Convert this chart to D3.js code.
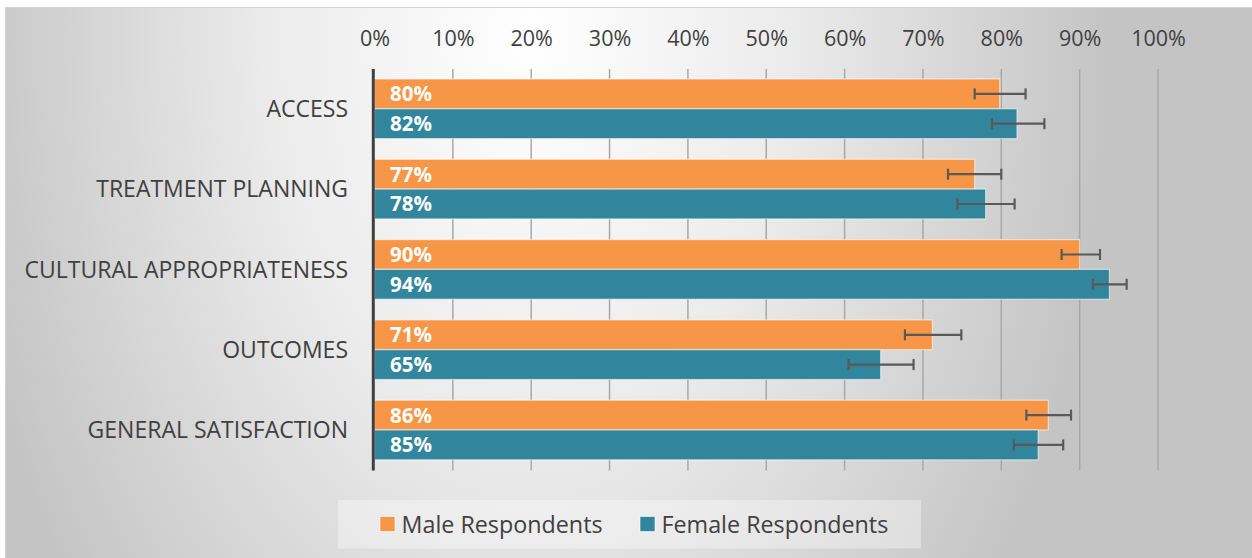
<!DOCTYPE html>
<html>
<head>
<meta charset="utf-8">
<style>
  html, body { margin: 0; padding: 0; background: #fff; }
  svg { display: block; }
</style>
</head>
<body>
<script src="https://d3js.org/d3.v7.min.js"></script>
<script>

  // values (percent)
  var categories = ['ACCESS', 'TREATMENT PLANNING', 'CULTURAL APPROPRIATENESS', 'OUTCOMES', 'GENERAL SATISFACTION'];
  var seriesNames = ['Male Respondents', 'Female Respondents'];
  var maleValues   = [79.8, 76.6, 90.0, 71.2, 86.0];
  var femaleValues = [82.0, 78.0, 93.8, 64.6, 84.7];
  var maleLow    = [76.6, 73.2, 87.7, 67.7, 83.2];
  var maleHigh   = [83.1, 80.0, 92.6, 74.9, 88.9];
  var femaleLow  = [78.8, 74.4, 91.7, 60.5, 81.6];
  var femaleHigh = [85.5, 81.7, 96.0, 68.8, 87.9];
  var xTicks = [0, 10, 20, 30, 40, 50, 60, 70, 80, 90, 100];

  var svgArea = { width: 1252, height: 558 };
  var colors = { male: '#f79646', female: '#31859c' };
  var font = '"Open Sans", "Noto Sans", sans-serif';

  var svg = d3.select('body').append('svg')
    .attr('width', svgArea.width)
    .attr('height', svgArea.height);

  // background gradient like the office chart area
  var defs = svg.append('defs');
  var grad = defs.append('radialGradient')
    .attr('id', 'bg')
    .attr('gradientUnits', 'userSpaceOnUse')
    .attr('cx', 530).attr('cy', 40).attr('r', 580)
    .attr('gradientTransform', 'translate(530,40) scale(1,1.55) translate(-530,-40)');
  grad.append('stop').attr('offset', 0).attr('stop-color', '#ffffff');
  grad.append('stop').attr('offset', 0.45).attr('stop-color', '#ebebeb');
  grad.append('stop').attr('offset', 1).attr('stop-color', '#c4c4c4');

  svg.append('rect')
    .attr('x', 5.5).attr('y', 7.5)
    .attr('width', 1260).attr('height', 600)
    .attr('fill', 'url(#bg)')
    .attr('stroke', '#d4d4d4');

  var rows = categories.map((c, i) => ({
    cat: c,
    bars: [
      { key: 'male', v: maleValues[i], lo: maleLow[i], hi: maleHigh[i] },
      { key: 'female', v: femaleValues[i], lo: femaleLow[i], hi: femaleHigh[i] }
    ]
  }));

  var xScale = d3.scaleLinear().domain([0, 100]).range([374.5, 1158]);
  var yScale = d3.scaleBand().domain(categories).range([69, 470.5]);
  var yInner = d3.scaleBand().domain(['male', 'female']).range([10, 69.6]);

  // gridlines
  svg.append('g')
    .selectAll('line')
    .data(xTicks.slice(1))
    .join('line')
      .attr('x1', d => xScale(d)).attr('x2', d => xScale(d))
      .attr('y1', 69).attr('y2', 470.5)
      .attr('stroke', '#a8a8a8')
      .attr('stroke-width', 1.5);

  // top tick labels
  var xAxis = svg.append('g')
    .attr('transform', 'translate(0,46)')
    .call(d3.axisTop(xScale).tickValues(xTicks).tickSize(0).tickPadding(0).tickFormat(d => d + '%'));
  xAxis.select('.domain').remove();
  xAxis.selectAll('text')
    .attr('font-family', font)
    .attr('font-size', 21.5)
    .attr('fill', '#404040')
    .attr('dy', 0);

  // category labels
  svg.append('g')
    .selectAll('text')
    .data(categories)
    .join('text')
      .attr('x', 348)
      .attr('y', d => yScale(d) + yScale.bandwidth() / 2 + 8)
      .attr('text-anchor', 'end')
      .attr('font-family', font)
      .attr('font-size', 23)
      .attr('fill', '#404040')
      .text(d => d);

  var groups = svg.append('g')
    .selectAll('g')
    .data(rows)
    .join('g')
      .attr('transform', d => `translate(0,${yScale(d.cat)})`);

  groups.selectAll('rect')
    .data(d => d.bars)
    .join('rect')
      .attr('x', xScale(0))
      .attr('y', d => yInner(d.key))
      .attr('width', d => xScale(d.v) - xScale(0))
      .attr('height', yInner.bandwidth())
      .attr('fill', d => colors[d.key])
      .attr('stroke', 'rgba(255,255,255,0.55)')
      .attr('stroke-width', 1.2);

  // error bars
  var errs = groups.selectAll('g.err')
    .data(d => d.bars)
    .join('g')
      .attr('class', 'err')
      .attr('transform', d => `translate(0,${yInner(d.key) + yInner.bandwidth() / 2})`)
      .attr('stroke', '#595959')
      .attr('stroke-width', 2.2);
  errs.append('line')
    .attr('x1', d => xScale(d.lo)).attr('x2', d => xScale(d.hi))
    .attr('y1', 0).attr('y2', 0);
  errs.append('line')
    .attr('x1', d => xScale(d.lo)).attr('x2', d => xScale(d.lo))
    .attr('y1', -5.5).attr('y2', 5.5);
  errs.append('line')
    .attr('x1', d => xScale(d.hi)).attr('x2', d => xScale(d.hi))
    .attr('y1', -5.5).attr('y2', 5.5);

  // value labels
  groups.selectAll('text')
    .data(d => d.bars)
    .join('text')
      .attr('x', xScale(0) + 15.5)
      .attr('y', d => yInner(d.key) + yInner.bandwidth() / 2 + 7.5)
      .attr('font-family', font)
      .attr('font-weight', 'bold')
      .attr('font-size', 20.5)
      .attr('fill', '#ffffff')
      .text(d => Math.round(d.v) + '%');

  // vertical axis line
  svg.append('line')
    .attr('x1', 373.3).attr('x2', 373.3)
    .attr('y1', 69).attr('y2', 470.5)
    .attr('stroke', '#404040')
    .attr('stroke-width', 3);

  // legend
  var legend = svg.append('g');
  legend.append('rect')
    .attr('x', 338).attr('y', 500)
    .attr('width', 583).attr('height', 48.5)
    .attr('fill', 'rgba(255,255,255,0.35)');
  var legendX = [380, 640];
  var items = legend.selectAll('g')
    .data(seriesNames)
    .join('g')
      .attr('transform', (d, i) => `translate(${legendX[i]},0)`);
  items.append('rect')
    .attr('x', 0).attr('y', 516.5)
    .attr('width', 15).attr('height', 15)
    .attr('fill', (d, i) => i === 0 ? colors.male : colors.female)
    .attr('stroke', 'rgba(255,255,255,0.6)');
  items.append('text')
    .attr('x', 21.5).attr('y', 532.5)
    .attr('font-family', font)
    .attr('font-size', 23.3)
    .attr('fill', '#404040')
    .text(d => d);

</script>
</body>
</html>
